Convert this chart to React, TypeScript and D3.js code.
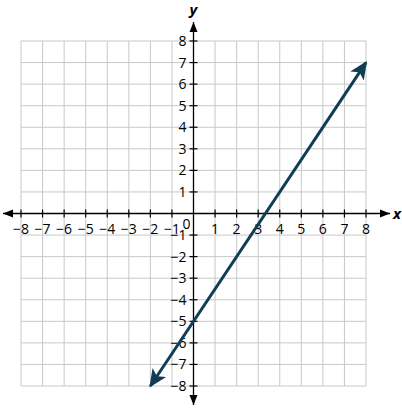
import React from 'react';
import * as d3 from 'd3';

const W = 402;
const H = 408;

const ticks = [-8, -7, -6, -5, -4, -3, -2, -1, 1, 2, 3, 4, 5, 6, 7, 8];
const gridValues = d3.range(-8, 9);
// y = 1.5x - 5, drawn between these endpoints
const lineX = [-2, 8];
const lineY = [-8, 7];

const fmt = (v: number) => (v < 0 ? '\u2212' + Math.abs(v) : String(v));

const App = () => {
  const x = d3.scaleLinear().domain([-8, 8]).range([21, 366]);
  const y = d3.scaleLinear().domain([-8, 8]).range([386, 41]);
  const font = "'Open Sans', 'Noto Sans', sans-serif";
  const lineColor = '#0e3d54';

  const linePath = d3.line<number>()
    .x((_, i) => x(lineX[i]))
    .y((_, i) => y(lineY[i]))(lineX) as string;

  return (
    <svg width={W} height={H} style={{ position: 'absolute', left: 0, top: 0 }}>
      <defs>
        <marker id="axArrow" viewBox="0 0 10 10" refX="10" refY="5" markerWidth="10" markerHeight="10"
          markerUnits="userSpaceOnUse" orient="auto-start-reverse">
          <path d="M0,1 L10,5 L0,9 Z" fill="#000" />
        </marker>
        <marker id="lnArrow" viewBox="0 0 10 10" refX="9" refY="5" markerWidth="6" markerHeight="6"
          orient="auto-start-reverse">
          <path d="M0,0.5 L10,5 L0,9.5 L2.5,5 Z" fill={lineColor} />
        </marker>
      </defs>

      {/* grid */}
      <g stroke="#c8c8c8" strokeWidth={1}>
        {gridValues.map(v => (
          <line key={'gx' + v} x1={x(v)} x2={x(v)} y1={y(8)} y2={y(-8)} />
        ))}
        {gridValues.map(v => (
          <line key={'gy' + v} x1={x(-8)} x2={x(8)} y1={y(v)} y2={y(v)} />
        ))}
      </g>

      {/* axes */}
      <line x1={3} x2={390} y1={y(0)} y2={y(0)} stroke="#000" strokeWidth={1.3}
        markerStart="url(#axArrow)" markerEnd="url(#axArrow)" />
      <line x1={x(0)} x2={x(0)} y1={22} y2={405} stroke="#000" strokeWidth={1.3}
        markerStart="url(#axArrow)" markerEnd="url(#axArrow)" />

      {/* ticks */}
      <g stroke="#000" strokeWidth={1.2}>
        {ticks.map(v => (
          <line key={'tx' + v} x1={x(v)} x2={x(v)} y1={y(0) - 4} y2={y(0) + 4} />
        ))}
        {ticks.map(v => (
          <line key={'ty' + v} x1={x(0) - 4} x2={x(0) + 4} y1={y(v)} y2={y(v)} />
        ))}
      </g>

      {/* tick labels */}
      <g fontFamily={font} fontSize={14} fill="#000">
        {ticks.map(v => (
          <text key={'lx' + v} x={x(v)} y={y(0) + 20} textAnchor="middle">{fmt(v)}</text>
        ))}
        {ticks.map(v => (
          <text key={'ly' + v} x={x(0) - 7} y={y(v) + 5} textAnchor="end">{fmt(v)}</text>
        ))}
        <text x={x(0) - 7} y={y(0) + 15} textAnchor="middle">0</text>
      </g>

      {/* axis names */}
      <text x={397} y={y(0) + 5} fontFamily={font} fontSize={15} fontStyle="italic" fontWeight="bold"
        textAnchor="middle">x</text>
      <text x={x(0)} y={15} fontFamily={font} fontSize={15} fontStyle="italic" fontWeight="bold"
        textAnchor="middle">y</text>

      {/* the line */}
      <path d={linePath} stroke={lineColor} strokeWidth={3} fill="none"
        markerStart="url(#lnArrow)" markerEnd="url(#lnArrow)" />
    </svg>
  );
};

export default App;
